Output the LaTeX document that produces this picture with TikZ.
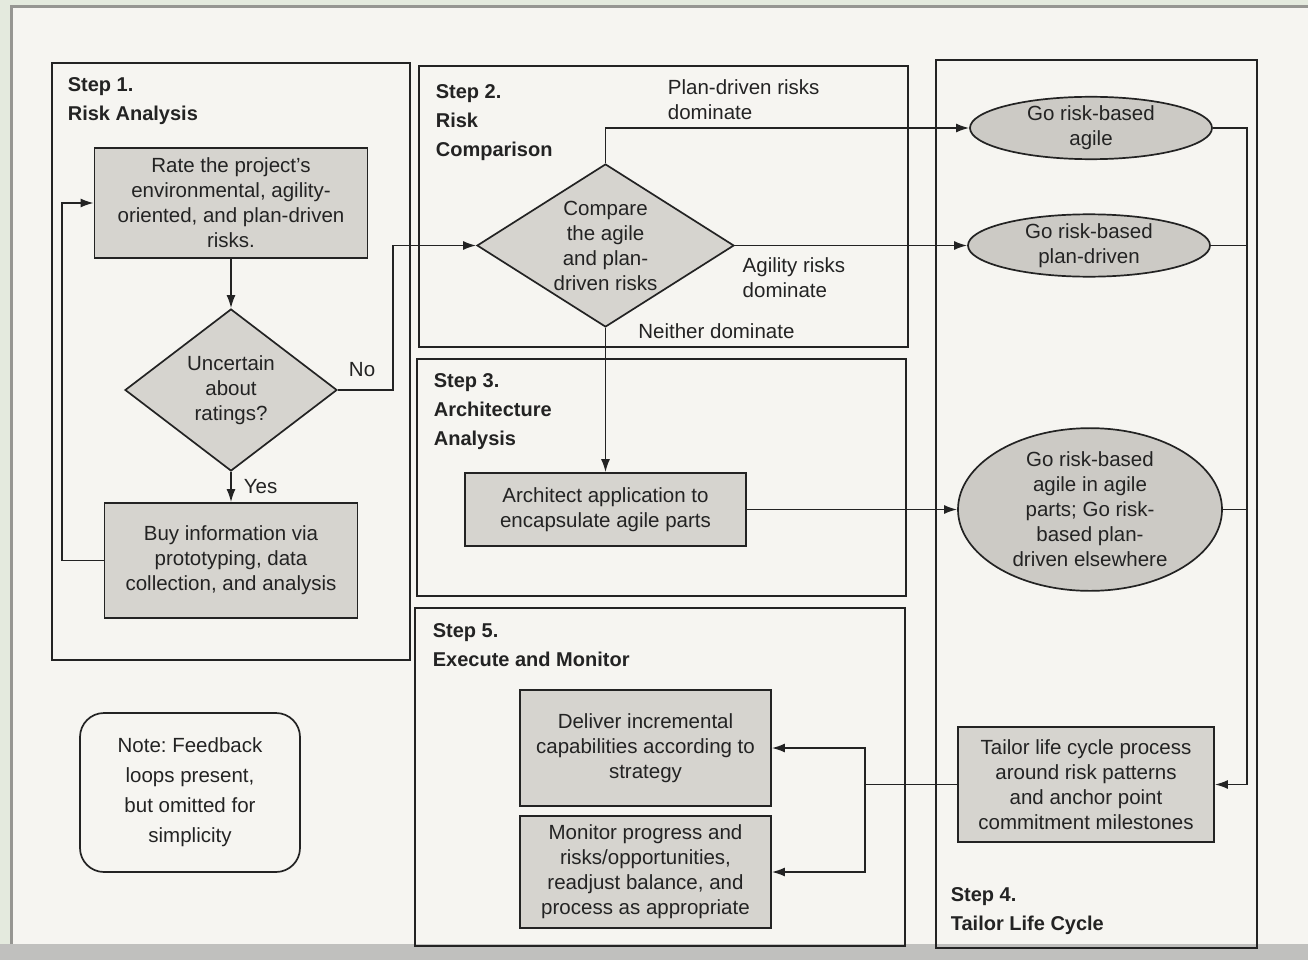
\documentclass[tikz,border=0pt]{standalone}
\usepackage{fontspec}
\setmainfont{Liberation Sans}
\usetikzlibrary{positioning,arrows.meta,calc,shapes.geometric}

\definecolor{outerbg}{RGB}{228,234,222}
\definecolor{pagebg}{RGB}{246,245,241}
\definecolor{edgegray}{RGB}{150,150,146}
\definecolor{boxgray}{RGB}{214,212,207}
\definecolor{ovalgray}{RGB}{204,202,197}
\definecolor{ink}{RGB}{35,35,35}

\tikzset{
  procbox/.style={draw, fill=boxgray, align=center, inner sep=2pt},
  decision/.style={diamond, draw, fill=boxgray, align=center, inner sep=0pt},
  outcome/.style={ellipse, draw, fill=ovalgray, align=center, inner sep=0pt},
  notebox/.style={draw, rounded corners=24pt, align=center, font=\fontsize{20.5}{30}\selectfont},
  steptitle/.style={anchor=north west, align=left, inner sep=0pt,
    font=\fontsize{20}{29}\selectfont\bfseries},
  lbl/.style={align=left, inner sep=0pt}
}

\begin{document}
\begin{tikzpicture}[x=1pt,y=-1pt,>={Latex[length=13pt,width=9pt]},
  line width=1.7pt, color=ink, font=\fontsize{20.5}{25}\selectfont]
\useasboundingbox (0,0) rectangle (1308,960);
\fill[outerbg] (0,0) rectangle (1308,960);
\fill[pagebg] (10,6) rectangle (1308,944);
\fill[edgegray!60] (0,944) rectangle (1308,960);
\draw[edgegray, line width=3pt] (11,944) -- (11,7) -- (1308,7);

% step frames
\draw (52,63) rectangle (410,660);
\draw (419,66) rectangle (908,347);
\draw (417,359) rectangle (906,596);
\draw (415,608) rectangle (905,946);
\draw (936,60) rectangle (1257,948);

\node[steptitle] (T1) at (67,77) {Step 1.\\Risk Analysis};
\node[steptitle] (T2) at (435,84) {Step 2.\\Risk\\Comparison};
\node[steptitle] (T3) at (433,373) {Step 3.\\Architecture\\Analysis};
\node[steptitle] (T4) at (950,887) {Step 4.\\Tailor Life Cycle};
\node[steptitle] (T5) at (432,623) {Step 5.\\Execute and Monitor};

% step 1
\node[procbox, minimum width=273pt, minimum height=110pt] (rate) at (231,203)
  {Rate the project's\\environmental, agility-\\oriented, and plan-driven\\risks.};
\node[decision, aspect=1.3, minimum width=212pt, minimum height=162pt] (unc) at (231,390)
  {Uncertain\\about\\ratings?};
\node[procbox, minimum width=253pt, minimum height=115pt] (buy) at (231,560.5)
  {Buy information via\\prototyping, data\\collection, and analysis};

% step 2
\node[decision, aspect=1.58, minimum width=257pt, minimum height=163pt] (cmp) at (605.5,245.5)
  {Compare\\the agile\\and plan-\\driven risks};

% step 3
\node[procbox, minimum width=281pt, minimum height=73pt] (arch) at (605.5,509.5)
  {Architect application to\\encapsulate agile parts};

% step 4
\node[outcome, minimum width=242pt, minimum height=62pt] (agile) at (1091,128)
  {Go risk-based\\agile};
\node[outcome, minimum width=242pt, minimum height=58pt] (plan) at (1089,245.5)
  {Go risk-based\\plan-driven};
\node[outcome, minimum width=264pt, minimum height=162pt] (mix) at (1090,509.5)
  {Go risk-based\\agile in agile\\parts; Go risk-\\based plan-\\driven elsewhere};
\node[procbox, minimum width=256pt, minimum height=115pt] (tailor) at (1086,784.5)
  {Tailor life cycle process\\around risk patterns\\and anchor point\\commitment milestones};

% step 5
\node[procbox, minimum width=251pt, minimum height=116pt] (deliver) at (645.5,748)
  {Deliver incremental\\capabilities according to\\strategy};
\node[procbox, minimum width=251pt, minimum height=112pt] (monitor) at (645.5,872)
  {Monitor progress and\\risks/opportunities,\\readjust balance, and\\process as appropriate};

\node[notebox, minimum width=220pt, minimum height=159pt] (note) at (190,792.5)
  {Note:\ Feedback\\loops present,\\but omitted for\\simplicity};

% connectors
\draw[->] (rate) -- (unc);
\draw[->] (unc) -- node[lbl, right=12pt]{Yes} (buy);
\draw[->] (buy.west) -- ++(-42,0) |- (rate.west);
\draw[->] (unc.east) -- node[lbl, pos=0.44, above=12pt]{No} ++(55,0) |- (cmp.west);
\draw[->] (cmp.north) |- node[lbl, pos=0.69, above=7pt]{Plan-driven risks\\dominate} (agile.west);
\draw[->] (cmp.east) -- node[lbl, pos=0, anchor=north west, xshift=7pt, yshift=-11pt]{Agility risks\\dominate} (plan.west);
\draw[->] (cmp.south) -- node[lbl, pos=0, anchor=north west, xshift=32pt, yshift=5pt]{Neither dominate} (arch.north);
\draw[->] (arch.east) -- (mix.west);

\coordinate (bus) at (1247,784.5);
\draw[->] (agile.east) -| (bus) -- (tailor.east);
\draw (plan.east) -- (plan.east -| bus);
\draw (mix.east) -- (mix.east -| bus);

\draw (tailor.west) -- ++(-92,0) coordinate (split);
\draw[->] (split) |- (deliver.east);
\draw[->] (split) |- (monitor.east);
\end{tikzpicture}
\end{document}
